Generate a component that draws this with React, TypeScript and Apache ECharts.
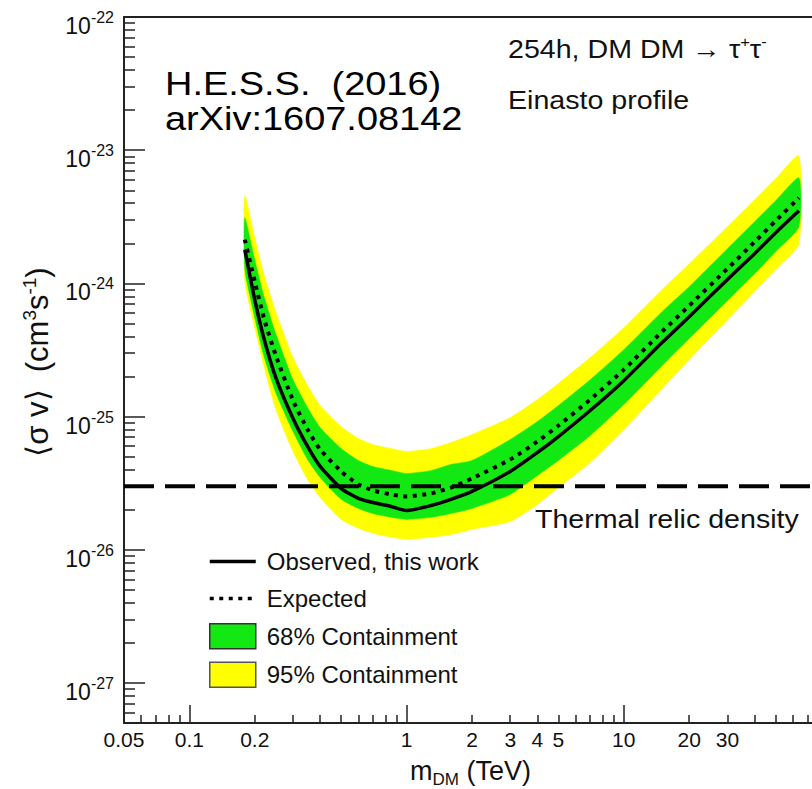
import React, { useEffect, useRef } from "react";
import * as echarts from "echarts";

// ---- data (⟨σv⟩ in cm^3 s^-1, mass in TeV) ----
const massTeV = [0.18, 0.2, 0.22, 0.25, 0.3, 0.35, 0.4, 0.5, 0.6, 0.7, 0.85, 1, 1.3, 1.6, 2, 3, 4, 5, 7, 10, 15, 20, 30, 40, 50, 64];
const observed = [1.79e-24, 7.54e-25, 3.91e-25, 1.96e-25, 9.66e-26, 5.96e-26, 4.22e-26, 2.88e-26, 2.43e-26, 2.26e-26, 2.11e-26, 1.97e-26, 2.15e-26, 2.39e-26, 2.74e-26, 3.87e-26, 5.37e-26, 7.08e-26, 1.11e-25, 1.86e-25, 3.59e-25, 5.62e-25, 1.07e-24, 1.67e-24, 2.4e-24, 3.51e-24];
const expected = [2.13e-24, 1.03e-24, 5.53e-25, 2.87e-25, 1.32e-25, 7.99e-26, 5.65e-26, 3.87e-26, 3.09e-26, 2.79e-26, 2.6e-26, 2.51e-26, 2.65e-26, 2.93e-26, 3.43e-26, 4.76e-26, 6.49e-26, 8.56e-26, 1.34e-25, 2.25e-25, 4.34e-25, 6.8e-25, 1.29e-24, 2.05e-24, 2.95e-24, 4.39e-24];
const band68Low = [1.27e-24, 5.53e-25, 2.87e-25, 1.51e-25, 7.72e-26, 4.76e-26, 3.49e-26, 2.39e-26, 2.04e-26, 1.87e-26, 1.75e-26, 1.69e-26, 1.75e-26, 1.87e-26, 2.04e-26, 2.6e-26, 3.61e-26, 4.68e-26, 7.2e-26, 1.23e-25, 2.41e-25, 3.85e-25, 7.41e-25, 1.18e-24, 1.73e-24, 2.66e-24];
const band68High = [3.11e-24, 1.5e-24, 8.08e-25, 4.19e-25, 1.89e-25, 1.17e-25, 8.27e-26, 5.75e-26, 4.68e-26, 4.22e-26, 3.94e-26, 3.74e-26, 3.94e-26, 4.37e-26, 4.68e-26, 6.72e-26, 9.17e-26, 1.21e-25, 1.89e-25, 3.18e-25, 6.13e-25, 9.44e-25, 1.82e-24, 2.9e-24, 4.17e-24, 6.2e-24];
const band95Low = [1.03e-24, 4.65e-25, 2.41e-25, 1.13e-25, 5.46e-26, 3.37e-26, 2.47e-26, 1.69e-26, 1.45e-26, 1.33e-26, 1.24e-26, 1.2e-26, 1.24e-26, 1.3e-26, 1.42e-26, 1.63e-26, 2.19e-26, 2.93e-26, 4.52e-26, 7.99e-26, 1.62e-25, 2.68e-25, 5.34e-25, 8.66e-25, 1.27e-24, 1.98e-24];
const band95High = [4.54e-24, 2.2e-24, 1.18e-24, 6.13e-25, 2.77e-25, 1.71e-25, 1.21e-25, 8.41e-26, 6.84e-26, 6.17e-26, 5.75e-26, 5.46e-26, 5.75e-26, 6.38e-26, 7.33e-26, 9.83e-26, 1.34e-25, 1.77e-25, 2.77e-25, 4.65e-25, 8.97e-25, 1.4e-24, 2.66e-24, 4.24e-24, 6.1e-24, 9.07e-24];
const thermalRelic = 3e-26;

// ---- axes ----
const X_MIN = 0.05;
const X_MAX = 100;
const Y_MIN = 5e-28;
const Y_MAX = 1e-22;
const xLabelValues = [0.05, 0.1, 0.2, 1, 2, 3, 4, 5, 10, 20, 30];
const xMajorTicks = [0.1, 1, 10, 100];
const xMinorTicks = [0.06, 0.07, 0.08, 0.09, 0.2, 0.3, 0.4, 0.5, 0.6, 0.7, 0.8, 0.9, 2, 3, 4, 5, 6, 7, 8, 9, 20, 30, 40, 50, 60, 70, 80, 90];
const yMajorTicks = [1e-27, 1e-26, 1e-25, 1e-24, 1e-23, 1e-22];
const yMinorMantissas = [2, 3, 4, 5, 6, 7, 8, 9];
const yDecades = [-28, -27, -26, -25, -24, -23];

// The y values are handed to the log axis in units of 1e-28 cm^3 s^-1, because
// ECharts rounds log-axis extents to 20 decimals (which would zero 1e-27 etc.).
const Y_UNIT = 1e-28;
const toUnits = (v: number) => Number((v / Y_UNIT).toPrecision(6));

const yMinorTicks: number[] = [];
yDecades.forEach((e) => {
  yMinorMantissas.forEach((m) => {
    const v = m * Math.pow(10, e);
    if (v >= Y_MIN * 0.999 && v < Y_MAX) yMinorTicks.push(toUnits(v));
  });
});

const FONT = '"Liberation Sans", Arial, Helvetica, sans-serif';
const AX = "#222";
const GREEN = "#12e812";
const YELLOW = "#ffff00";

function bandRenderer(color: string) {
  return (params: any, api: any) => {
    if (params.dataIndexInside !== 0) return null;
    const n = params.dataInsideLength;
    const lower: number[][] = [];
    const upper: number[][] = [];
    for (let i = 0; i < n; i++) {
      const m = api.value(0, i);
      lower.push(api.coord([m, api.value(1, i)]));
      upper.push(api.coord([m, api.value(2, i)]));
    }
    return {
      type: "polygon",
      shape: { points: lower.concat(upper.reverse()), smooth: 0.2 },
      style: { fill: color, stroke: color, lineWidth: 0.5 },
    };
  };
}

export default function App() {
  const ref = useRef<HTMLDivElement>(null);
  useEffect(() => {
    document.body.style.margin = "0";
    const chart = echarts.init(ref.current!, null, { renderer: "svg" });
    const logAxisBase = { type: "log" as const, logBase: 10, splitLine: { show: false }, minorTick: { show: false } };
    const yExp = (v: number) => Math.round(Math.log10(v) + Math.log10(Y_UNIT));
    const option: any = {
      animation: false,
      backgroundColor: "#ffffff",
      grid: { left: 124, top: 17, right: -29, bottom: 66, outerBoundsMode: "none", containLabel: false },
      legend: {
        orient: "vertical",
        left: 208,
        top: 549,
        padding: 0,
        itemWidth: 46,
        itemHeight: 25,
        itemGap: 12,
        selectedMode: false,
        lineStyle: { width: 3.5 },
        textStyle: { fontSize: 24, lineHeight: 25, color: "#111", fontFamily: FONT, padding: [0, 0, 0, 6] },
        data: [
          { name: "Observed, this work", itemStyle: { opacity: 0 } },
          { name: "Expected", itemStyle: { opacity: 0 } },
          { name: "68% Containment", icon: "rect", itemStyle: { borderColor: "#333", borderWidth: 1.5 } },
          { name: "95% Containment", icon: "rect", itemStyle: { borderColor: "#555", borderWidth: 1.5 } },
        ],
      },
      xAxis: [
        {
          ...logAxisBase,
          min: X_MIN,
          max: X_MAX,
          position: "bottom",
          axisLine: { show: true, onZero: false, lineStyle: { color: AX, width: 2 } },
          axisTick: { show: true, inside: true, length: 8, customValues: xMinorTicks, lineStyle: { color: AX, width: 1.5 } },
          axisLabel: {
            show: true,
            customValues: xLabelValues,
            formatter: (v: number) => String(Number(v.toPrecision(2))),
            margin: 6,
            fontSize: 21,
            color: "#111",
            fontFamily: FONT,
          },
          name: "m{sub|DM} (TeV)",
          nameLocation: "middle",
          nameGap: 30,
          nameTextStyle: {
            fontSize: 27,
            color: "#111",
            fontFamily: FONT,
            padding: [0, 24, 0, 0],
            lineHeight: 33,
            rich: { sub: { fontSize: 17, fontFamily: FONT, color: "#111", verticalAlign: "bottom", lineHeight: 17 } },
          },
        },
        {
          ...logAxisBase,
          min: X_MIN,
          max: X_MAX,
          position: "bottom",
          axisLine: { show: false },
          axisTick: { show: true, inside: true, length: 18, customValues: xMajorTicks, lineStyle: { color: AX, width: 1.5 } },
          axisLabel: { show: false },
        },
        {
          ...logAxisBase,
          min: X_MIN,
          max: X_MAX,
          position: "top",
          axisLine: { show: true, lineStyle: { color: AX, width: 2 } },
          axisTick: { show: false },
          axisLabel: { show: false },
        },
      ],
      yAxis: [
        {
          ...logAxisBase,
          min: toUnits(Y_MIN),
          max: toUnits(Y_MAX),
          position: "left",
          axisLine: { show: true, onZero: false, lineStyle: { color: AX, width: 2 } },
          axisTick: { show: true, inside: true, length: 21, customValues: yMajorTicks.map(toUnits), lineStyle: { color: AX, width: 1.5 } },
          axisLabel: {
            show: true,
            customValues: yMajorTicks.map(toUnits),
            formatter: (v: number) => `{b|10}{s|${yExp(v)}}`,
            margin: 10,
            padding: [18, 0, 0, 0],
            rich: {
              b: { fontSize: 23, lineHeight: 33, fontFamily: FONT, color: "#111", verticalAlign: "middle" },
              s: { fontSize: 16, lineHeight: 17, fontFamily: FONT, color: "#111", verticalAlign: "top" },
            },
          },
          name: "⟨σ v⟩  (cm{s|3}s{s|-1})",
          nameLocation: "middle",
          nameRotate: 90,
          nameGap: 68,
          nameTextStyle: {
            fontSize: 31,
            color: "#111",
            fontFamily: FONT,
            lineHeight: 34,
            padding: [0, 0, 0, 16],
            rich: { s: { fontSize: 19, fontFamily: FONT, color: "#111", verticalAlign: "top", lineHeight: 18 } },
          },
        },
        {
          ...logAxisBase,
          min: toUnits(Y_MIN),
          max: toUnits(Y_MAX),
          position: "left",
          axisLine: { show: false },
          axisTick: { show: true, inside: true, length: 11, customValues: yMinorTicks, lineStyle: { color: AX, width: 1.5 } },
          axisLabel: { show: false },
        },
      ],
      series: [
        {
          name: "95% Containment",
          type: "custom",
          renderItem: bandRenderer(YELLOW),
          itemStyle: { color: YELLOW },
          encode: { x: 0, y: [1, 2] },
          data: massTeV.map((m, i) => [m, toUnits(band95Low[i]), toUnits(band95High[i])]),
          z: 1,
          silent: true,
        },
        {
          name: "68% Containment",
          type: "custom",
          renderItem: bandRenderer(GREEN),
          itemStyle: { color: GREEN },
          encode: { x: 0, y: [1, 2] },
          data: massTeV.map((m, i) => [m, toUnits(band68Low[i]), toUnits(band68High[i])]),
          z: 2,
          silent: true,
        },
        {
          name: "Expected",
          type: "line",
          symbol: "none",
          smooth: 0.2,
          data: massTeV.map((m, i) => [m, toUnits(expected[i])]),
          lineStyle: { color: "#000", width: 4, type: [4, 5.5], cap: "butt" },
          itemStyle: { color: "#000" },
          z: 3,
          silent: true,
        },
        {
          name: "Observed, this work",
          type: "line",
          symbol: "none",
          smooth: 0.2,
          data: massTeV.map((m, i) => [m, toUnits(observed[i])]),
          lineStyle: { color: "#000", width: 3.5 },
          itemStyle: { color: "#000" },
          z: 4,
          silent: true,
        },
        {
          name: "Thermal relic density",
          type: "line",
          symbol: "none",
          data: [
            [X_MIN, toUnits(thermalRelic)],
            [X_MAX, toUnits(thermalRelic)],
          ],
          lineStyle: { color: "#000", width: 4, type: [30, 11], cap: "butt" },
          itemStyle: { color: "#000" },
          z: 5,
          silent: true,
        },
      ],
      graphic: [
        {
          type: "text",
          x: 165,
          y: 84,
          scaleX: 1.15,
          style: { text: "H.E.S.S.  (2016)", fontSize: 33, fontFamily: FONT, fill: "#000", verticalAlign: "middle", align: "left" },
        },
        {
          type: "text",
          x: 165,
          y: 119,
          scaleX: 1.15,
          style: { text: "arXiv:1607.08142", fontSize: 33, fontFamily: FONT, fill: "#000", verticalAlign: "middle", align: "left" },
        },
        {
          type: "text",
          x: 508,
          y: 49,
          scaleX: 1.1,
          style: {
            text: "254h, DM DM → τ{sup|+}τ{sup|-}",
            fontSize: 26,
            lineHeight: 30,
            fontFamily: FONT,
            fill: "#111",
            verticalAlign: "middle",
            align: "left",
            rich: { sup: { fontSize: 15, lineHeight: 15, fontFamily: FONT, fill: "#111", verticalAlign: "top" } },
          },
        },
        {
          type: "text",
          x: 508,
          y: 100,
          scaleX: 1.1,
          style: { text: "Einasto profile", fontSize: 26, fontFamily: FONT, fill: "#111", verticalAlign: "middle", align: "left" },
        },
        {
          type: "text",
          x: 535,
          y: 519,
          scaleX: 1.1,
          style: { text: "Thermal relic density", fontSize: 26, fontFamily: FONT, fill: "#111", verticalAlign: "middle", align: "left" },
        },
      ],
    };
    chart.setOption(option);
    return () => chart.dispose();
  }, []);
  return <div ref={ref} style={{ width: 812, height: 789 }} />;
}
